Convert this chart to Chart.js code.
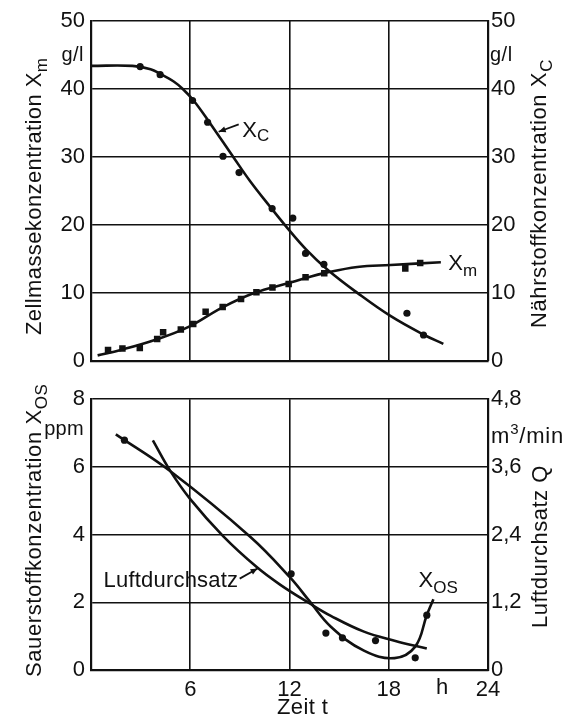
<!DOCTYPE html>
<html>
<head>
<meta charset="utf-8">
<script src="https://cdn.jsdelivr.net/npm/chart.js@4.4.1/dist/chart.umd.min.js"></script>
<style>
  html, body { margin: 0; padding: 0; background: #fff; }
  #wrap { position: relative; width: 583px; height: 716px; overflow: hidden; }
  #topPanel { position: absolute; left: 0; top: 0; }
  #bottomPanel { position: absolute; left: 0; top: 380px; }
</style>
</head>
<body>
<div id="wrap">
  <canvas id="topPanel" width="583" height="380"></canvas>
  <canvas id="bottomPanel" width="583" height="336"></canvas>
</div>
<script>
// ---------- upper panel: cell mass X_m and nutrient X_C (g/l) over time (h) ----------
const xmCurveTime  = [0.4, 1.8, 3.9, 5.9, 7.9, 9.9, 11.9, 13.0, 14.1, 16.1, 18.1, 21.15];
const xmCurveValue = [0.8, 1.6, 3.1, 5.0, 7.8, 10.0, 11.4, 12.2, 12.9, 13.8, 14.1, 14.5];
const xmPointTime  = [1.03, 1.9, 2.95, 4.0, 4.36, 5.43, 6.18, 6.93, 7.96, 9.07, 10.0, 10.97, 11.95, 12.97, 14.1, 19.0, 19.9];
const xmPointValue = [1.6, 1.8, 1.9, 3.2, 4.2, 4.6, 5.4, 7.2, 7.9, 9.1, 10.1, 10.8, 11.3, 12.3, 12.9, 13.6, 14.4];

const xcCurveTime  = [0, 2.5, 3.6, 4.2, 5.0, 5.55, 6.2, 7.1, 8.6, 9.6, 10.85, 11.85, 13.0, 14.3, 16.1, 18.1, 20.15, 21.3];
const xcCurveValue = [43.4, 43.4, 42.9, 42.2, 41.1, 40.0, 38.3, 35.3, 30.0, 26.5, 22.6, 19.6, 16.4, 13.4, 10.0, 6.6, 3.8, 2.5];
const xcPointTime  = [2.97, 4.18, 6.14, 7.05, 7.98, 8.95, 10.95, 12.2, 12.97, 14.08, 19.1, 20.1];
const xcPointValue = [43.3, 42.1, 38.3, 35.1, 30.1, 27.7, 22.4, 21.0, 15.8, 14.2, 7.0, 3.8];

// ---------- lower panel: dissolved oxygen X_OS (ppm) and air throughput Q (m³/min) ----------
const xosCurveTime  = [1.5, 4.8, 9.64, 12.06, 13.2, 14.5, 16.5, 18.35, 19.6, 20.3, 20.7];
const xosCurveValue = [6.96, 5.87, 3.93, 2.72, 2.04, 1.28, 0.57, 0.35, 0.69, 1.62, 2.09];
const xosPointTime  = [2.02, 12.1, 14.2, 15.2, 17.2, 19.6, 20.3];
const xosPointValue = [6.79, 2.84, 1.09, 0.95, 0.87, 0.36, 1.62];

const airTime  = [3.74, 4.79, 6.0, 8.0, 10.0, 11.45, 13.17, 14.5, 16.5, 18.35, 20.3];
const airValue = [4.07, 3.53, 3.03, 2.37, 1.83, 1.51, 1.19, 0.96, 0.68, 0.52, 0.38];

// ---------- axis ticks ----------
const timeTicks = [0, 6, 12, 18, 24];
const gramTicks = [0, 10, 20, 30, 40, 50];
const ppmTicks  = [0, 2, 4, 6, 8];
const airTicks  = [0, 1.2, 2.4, 3.6, 4.8];

const FONT = "'Liberation Sans', Arial, Helvetica, sans-serif";
const INK = '#111';

Chart.defaults.font.family = FONT;
Chart.defaults.font.size = 22;
Chart.defaults.color = INK;

const pairs = (xs, ys) => xs.map((x, i) => ({ x, y: ys[i] }));

function curve(xs, ys, axis) {
  return {
    type: 'line', data: pairs(xs, ys), yAxisID: axis,
    borderColor: INK, borderWidth: 2.6, pointRadius: 0,
    tension: 0.4, fill: false, order: 2
  };
}
function dots(xs, ys, axis, style, r) {
  return {
    type: 'scatter', data: pairs(xs, ys), yAxisID: axis,
    pointStyle: style, pointRadius: r, backgroundColor: INK,
    borderColor: INK, borderWidth: 0, showLine: false, order: 1
  };
}

function fixedTicks(values) {
  return function (scale) { scale.ticks = values.map(v => ({ value: v })); };
}
const plainFmt = v => String(v);
const commaFmt = v => (v === 0 ? '0' : v.toFixed(1).replace('.', ','));
const timeFmt = v => (v === 0 ? '' : String(v));

// text made of parts (sub/superscripts), optionally rotated
function richText(ctx, x, y, parts, angle, align, spacing) {
  ctx.save();
  ctx.translate(x, y);
  ctx.rotate(angle || 0);
  ctx.textBaseline = 'alphabetic';
  ctx.textAlign = 'left';
  ctx.fillStyle = INK;
  ctx.letterSpacing = (spacing || 0) + 'px';
  let total = 0;
  parts.forEach(p => { ctx.font = p.size + 'px ' + FONT; total += ctx.measureText(p.text).width; });
  let cx = align === 'right' ? -total : align === 'center' ? -total / 2 : 0;
  parts.forEach(p => {
    ctx.font = p.size + 'px ' + FONT;
    ctx.fillText(p.text, cx, p.dy || 0);
    cx += ctx.measureText(p.text).width;
  });
  ctx.restore();
}

function arrow(ctx, x1, y1, x2, y2) {
  ctx.save();
  ctx.strokeStyle = INK; ctx.fillStyle = INK; ctx.lineWidth = 1.8;
  ctx.beginPath(); ctx.moveTo(x1, y1); ctx.lineTo(x2, y2); ctx.stroke();
  const a = Math.atan2(y2 - y1, x2 - x1), L = 7, W = 3;
  ctx.beginPath();
  ctx.moveTo(x2, y2);
  ctx.lineTo(x2 - L * Math.cos(a) + W * Math.sin(a), y2 - L * Math.sin(a) - W * Math.cos(a));
  ctx.lineTo(x2 - L * Math.cos(a) - W * Math.sin(a), y2 - L * Math.sin(a) + W * Math.cos(a));
  ctx.closePath(); ctx.fill();
  ctx.restore();
}

function baseScales(yMax, yTicks, y2Max, y2Ticks, y2Fmt, xHeight, showX) {
  return {
    x: {
      type: 'linear', min: 0, max: 24,
      afterBuildTicks: fixedTicks(timeTicks),
      ticks: { display: showX, padding: 7, maxRotation: 0, autoSkip: false, callback: timeFmt },
      grid: { color: INK, lineWidth: 1.6, drawTicks: false },
      border: { color: INK, width: 2.2 },
      afterFit(s) { s.height = xHeight; }
    },
    y: {
      position: 'left', min: 0, max: yMax,
      afterBuildTicks: fixedTicks(yTicks),
      ticks: { padding: 6, callback: plainFmt },
      grid: { color: INK, lineWidth: 1.6, drawTicks: false },
      border: { color: INK, width: 2.2 },
      afterFit(s) { s.width = 91; }
    },
    y2: {
      position: 'right', min: 0, max: y2Max,
      afterBuildTicks: fixedTicks(y2Ticks),
      ticks: { padding: 3, callback: y2Fmt },
      grid: { display: false, drawTicks: false },
      border: { color: INK, width: 2.2 },
      afterFit(s) { s.width = 95; }
    }
  };
}

// ---------- upper chart ----------
const upperLabels = {
  id: 'upperLabels',
  afterDraw(chart) {
    const ctx = chart.ctx, sx = chart.scales.x, sy = chart.scales.y;
    const R = -Math.PI / 2;
    richText(ctx, 41, 335, [{ text: 'Zellmassekonzentration X', size: 22 }, { text: 'm', size: 17, dy: 6 }], R, 'left', 0.4);
    richText(ctx, 546, 328, [{ text: 'Nährstoffkonzentration X', size: 22 }, { text: 'C', size: 17, dy: 6 }], R, 'left', 0.6);
    richText(ctx, 84, 61, [{ text: 'g/l', size: 20 }], 0, 'right', 0.5);
    richText(ctx, 490, 61, [{ text: 'g/l', size: 20 }], 0, 'left', 0.5);
    // X_C label with pointer
    arrow(ctx, sx.getPixelForValue(8.93), sy.getPixelForValue(34.8), sx.getPixelForValue(7.72), sy.getPixelForValue(33.7));
    richText(ctx, sx.getPixelForValue(9.15), sy.getPixelForValue(32.9),
      [{ text: 'X', size: 22 }, { text: 'C', size: 17, dy: 4 }]);
    // X_m label
    richText(ctx, sx.getPixelForValue(21.6), sy.getPixelForValue(13.4),
      [{ text: 'X', size: 22 }, { text: 'm', size: 17, dy: 6 }]);
  }
};

new Chart(document.getElementById('topPanel'), {
  type: 'line',
  data: {
    datasets: [
      curve(xcCurveTime, xcCurveValue, 'y2'),
      dots(xcPointTime, xcPointValue, 'y2', 'circle', 3.6),
      curve(xmCurveTime, xmCurveValue, 'y'),
      dots(xmPointTime, xmPointValue, 'y', 'rect', 4.6)
    ]
  },
  options: {
    responsive: false, animation: false, events: [],
    layout: { padding: { top: 21, left: 0, right: 0, bottom: 0 } },
    plugins: { legend: { display: false }, tooltip: { enabled: false } },
    scales: baseScales(50, gramTicks, 50, gramTicks, plainFmt, 19, false)
  },
  plugins: [upperLabels]
});

// ---------- lower chart ----------
const lowerLabels = {
  id: 'lowerLabels',
  afterDraw(chart) {
    const ctx = chart.ctx, sx = chart.scales.x, sy = chart.scales.y;
    const R = -Math.PI / 2;
    richText(ctx, 41, 297, [{ text: 'Sauerstoffkonzentration X', size: 22 }, { text: 'OS', size: 17, dy: 6 }], R, 'left', 0.6);
    richText(ctx, 547, 248, [{ text: 'Luftdurchsatz Q', size: 22 }], R, 'left', 0.5);
    richText(ctx, 84, 55, [{ text: 'ppm', size: 20 }], 0, 'right', 0.3);
    richText(ctx, 491, 63, [{ text: 'm', size: 22 }, { text: '3', size: 15, dy: -9 }, { text: '/min', size: 22 }], 0, 'left', 0.8);
    richText(ctx, 442, 314, [{ text: 'h', size: 22 }], 0, 'center');
    richText(ctx, 277, 334, [{ text: 'Zeit t', size: 22 }], 0, 'left', 0.4);
    // air throughput label with pointer
    arrow(ctx, sx.getPixelForValue(8.99), sy.getPixelForValue(2.7), sx.getPixelForValue(10.07), sy.getPixelForValue(3.0));
    richText(ctx, sx.getPixelForValue(8.9), sy.getPixelForValue(2.44), [{ text: 'Luftdurchsatz', size: 22 }], 0, 'right', 0.2);
    // X_OS label
    richText(ctx, sx.getPixelForValue(19.8), sy.getPixelForValue(2.44),
      [{ text: 'X', size: 22 }, { text: 'OS', size: 17, dy: 6 }]);
  }
};

new Chart(document.getElementById('bottomPanel'), {
  type: 'line',
  data: {
    datasets: [
      curve(xosCurveTime, xosCurveValue, 'y'),
      dots(xosPointTime, xosPointValue, 'y', 'circle', 3.6),
      curve(airTime, airValue, 'y2')
    ]
  },
  options: {
    responsive: false, animation: false, events: [],
    layout: { padding: { top: 17, left: 0, right: 0, bottom: 0 } },
    plugins: { legend: { display: false }, tooltip: { enabled: false } },
    scales: baseScales(8, ppmTicks, 4.8, airTicks, commaFmt, 46, true)
  },
  plugins: [lowerLabels]
});
</script>
</body>
</html>
